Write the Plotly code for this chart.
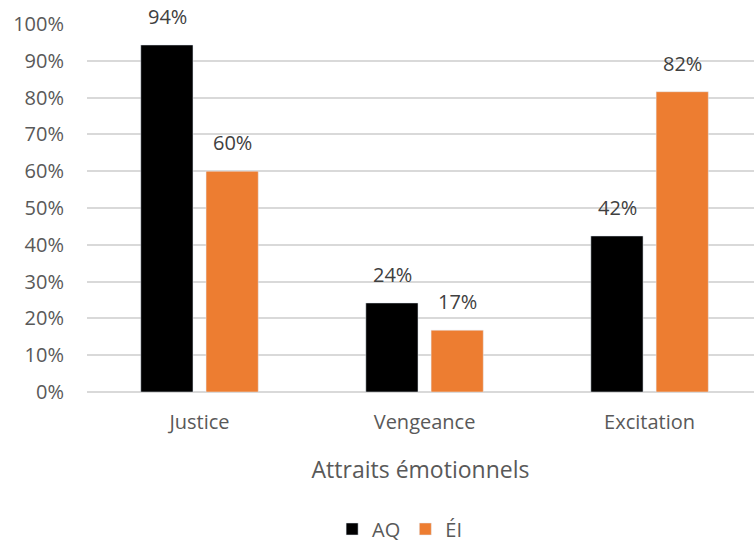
import plotly.graph_objects as go

categories = ["Justice", "Vengeance", "Excitation"]
aq_values = [0.943, 0.242, 0.424]
ei_values = [0.600, 0.168, 0.816]
y_ticks = [i / 10 for i in range(11)]
y_tick_labels = [f"{i*10}%" for i in range(11)]

font_fam = "Open Sans, Liberation Sans, sans-serif"
txt_col = "#595959"
lbl_col = "#404040"

fig = go.Figure()
fig.add_trace(go.Bar(name="AQ", x=categories, y=aq_values, marker_color="#000000"))
fig.add_trace(go.Bar(name="ÉI", x=categories, y=ei_values, marker_color="#ED7D31"))

# value labels above bars
for vals, shift in ((aq_values, -32.5), (ei_values, 32.5)):
    for c, v in zip(categories, vals):
        fig.add_annotation(x=c, y=v, xref="x", yref="y", text=f"{round(v*100)}%",
                           showarrow=False, xshift=shift, yshift=13, yanchor="bottom",
                           font=dict(size=20, color=lbl_col, family=font_fam))

fig.update_layout(
    width=754, height=542,
    margin=dict(l=87, r=0, t=24, b=150),
    plot_bgcolor="white", paper_bgcolor="white",
    barmode="group", bargap=0.42, bargroupgap=0.2,
    font=dict(family=font_fam, color=txt_col, size=20),
    showlegend=True,
    legend=dict(orientation="h", xref="container", yref="container", x=0.53, y=0.024,
                xanchor="center", yanchor="middle", font=dict(size=20, color=txt_col),
                itemwidth=30, traceorder="normal"),
    xaxis=dict(range=[-0.5, 2.464], showgrid=False, showline=False, zeroline=False,
               ticks="", ticklabelstandoff=16,
               tickfont=dict(size=20, color=txt_col),
               title=dict(text="Attraits émotionnels", font=dict(size=23, color=txt_col), standoff=27)),
    yaxis=dict(range=[0, 1], tickvals=y_ticks, ticktext=y_tick_labels,
               showgrid=True, gridcolor="#D9D9D9", gridwidth=1.5,
               zeroline=True, zerolinecolor="#D9D9D9", zerolinewidth=1.5,
               showline=False, ticks="", ticklabelstandoff=22,
               tickfont=dict(size=20, color=txt_col)),
)

fig.write_html("out.html")
